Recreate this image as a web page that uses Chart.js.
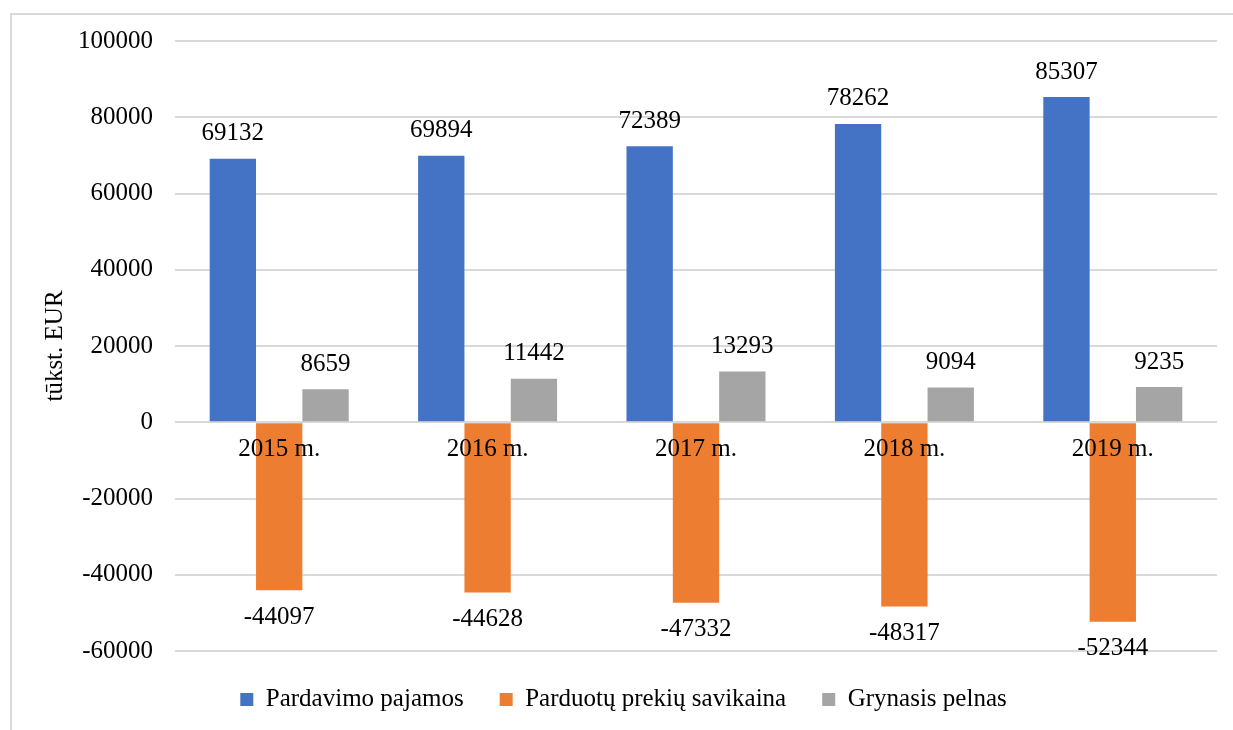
<!DOCTYPE html>
<html>
<head>
<meta charset="utf-8">
<script src="https://cdn.jsdelivr.net/npm/chart.js@4.4.1/dist/chart.umd.min.js"></script>
<style>
    html, body { margin: 0; padding: 0; background: #ffffff; overflow: hidden; }
    .frame {
        position: absolute; left: 10px; top: 13px; width: 1400px; height: 900px;
        border-left: 2px solid #d9d9d9; border-top: 2px solid #d9d9d9;
    }
    .wrap { position: absolute; left: 0; top: 0; width: 1233px; height: 730px; }
</style>
</head>
<body>
<div class="frame"></div>
<div class="wrap"><canvas id="grafikas"></canvas></div>
<script>
const metai = ['2015 m.', '2016 m.', '2017 m.', '2018 m.', '2019 m.'];
const pajamos = [69132, 69894, 72389, 78262, 85307];
const savikaina = [-44097, -44628, -47332, -48317, -52344];
const pelnas = [8659, 11442, 13293, 9094, 9235];
const yMin = -60000;
const yMax = 100000;
const yZingsnis = 20000;

const serif = "'Liberation Serif', 'Times New Roman', serif";

// value labels above positive bars and below negative ones
const reiksmes = {
    id: 'reiksmes',
    afterDatasetsDraw(chart) {
        const ctx = chart.ctx;
        ctx.save();
        ctx.font = '25px ' + serif;
        ctx.fillStyle = '#000000';
        ctx.textAlign = 'center';
        ctx.textBaseline = 'middle';
        chart.data.datasets.forEach(function (ds, i) {
            chart.getDatasetMeta(i).data.forEach(function (bar, j) {
                const v = ds.data[j];
                const y = v >= 0 ? bar.y - 25 : bar.y + 27;
                ctx.fillText(String(v), bar.x, y);
            });
        });
        ctx.restore();
    }
};

new Chart(document.getElementById('grafikas'), {
    type: 'bar',
    data: {
        labels: metai,
        datasets: [{
            label: 'Pardavimo pajamos',
            data: pajamos,
            backgroundColor: '#4472c4'
        }, {
            label: 'Parduotų prekių savikaina',
            data: savikaina,
            backgroundColor: '#ed7d31'
        }, {
            label: 'Grynasis pelnas',
            data: pelnas,
            backgroundColor: '#a5a5a5'
        }]
    },
    options: {
        responsive: true,
        maintainAspectRatio: false,
        animation: false,
        layout: {
            padding: { left: 30, right: 16, top: 41, bottom: 8 }
        },
        datasets: {
            bar: {
                categoryPercentage: 0.667,
                barPercentage: 1
            }
        },
        plugins: {
            legend: {
                position: 'bottom',
                labels: {
                    font: { family: serif, size: 25 },
                    color: '#000000',
                    boxWidth: 13,
                    boxHeight: 13,
                    padding: 36
                }
            },
            tooltip: { enabled: false }
        },
        scales: {
            x: {
                position: { y: 0 },
                grid: { display: false, drawTicks: false },
                border: { display: false },
                ticks: {
                    z: 1,
                    font: { family: serif, size: 25 },
                    color: '#000000',
                    padding: 12,
                    maxRotation: 0
                },
                afterFit: function (scale) { scale.height = 0; }
            },
            y: {
                min: yMin,
                max: yMax,
                grid: { color: '#d9d9d9', lineWidth: 2, drawTicks: false },
                border: { display: false },
                ticks: {
                    stepSize: yZingsnis,
                    font: { family: serif, size: 25 },
                    color: '#000000',
                    padding: 22,
                    callback: function (v) { return String(v); }
                },
                title: {
                    display: true,
                    text: 'tūkst. EUR',
                    font: { family: serif, size: 25 },
                    color: '#000000',
                    padding: { top: 10, bottom: 0 }
                },
                afterFit: function (scale) { scale.width = 145; }
            }
        }
    },
    plugins: [reiksmes]
});
</script>
</body>
</html>
